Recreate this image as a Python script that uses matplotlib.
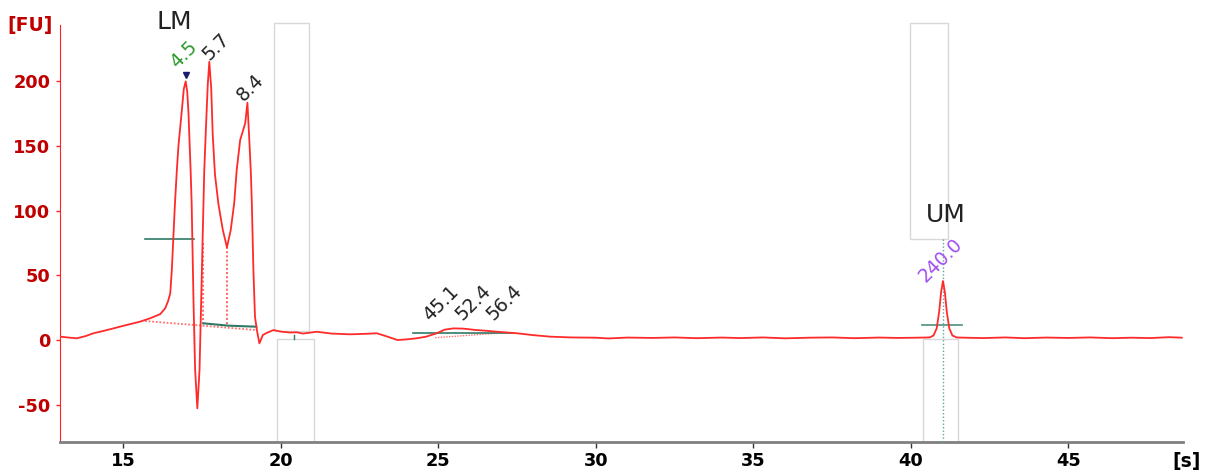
import numpy as np
import matplotlib.pyplot as plt
from matplotlib.patches import Rectangle

plt.rcParams["axes.unicode_minus"] = False

# electropherogram trace: migration time [s] vs fluorescence [FU]
time_s = [13.0, 13.3, 13.52, 13.8, 14.05, 14.4, 14.69, 15.0, 15.32, 15.53, 15.85, 16.17, 16.33,
          16.42, 16.49, 16.54, 16.59, 16.64, 16.70, 16.75, 16.86, 16.92, 16.98, 17.03, 17.07,
          17.14, 17.17, 17.23, 17.28, 17.35, 17.42, 17.47, 17.52, 17.57, 17.62, 17.68, 17.73,
          17.79, 17.84, 17.91, 18.02, 18.16, 18.29, 18.41, 18.52, 18.60, 18.71, 18.87, 18.94,
          19.00, 19.05, 19.08, 19.13, 19.18, 19.24, 19.32, 19.43, 19.56, 19.77, 20.0, 20.3,
          20.5, 20.7, 20.9, 21.14, 21.6, 22.2, 22.7, 23.05, 23.4, 23.7, 24.0, 24.3, 24.6, 24.95,
          25.2, 25.48, 25.8, 26.2, 26.5, 26.86, 27.5, 28.0, 28.55, 29.2, 30.0, 30.4, 31.0, 31.8,
          32.5, 33.2, 34.0, 34.6, 35.3, 36.0, 36.8, 37.5, 38.2, 39.0, 39.6, 40.2, 40.6, 40.72,
          40.82, 40.90, 40.96, 41.02, 41.08, 41.14, 41.22, 41.32, 41.45, 41.7, 42.3, 43.0, 43.6,
          44.3, 45.0, 45.7, 46.4, 47.0, 47.6, 48.2, 48.6]
fu = [2.6, 1.8, 1.3, 3.0, 5.2, 7.2, 9.0, 11.0, 12.9, 14.2, 16.8, 20.0, 24.5,
      30.0, 36.0, 54.0, 80.0, 105.7, 131.5, 150.0, 178.0, 194.0, 200.0, 192.0, 175.0,
      129.0, 105.7, 28.0, -23.0, -52.8, -23.0, 28.0, 80.0, 131.0, 162.0, 197.0, 215.2,
      195.0, 158.0, 128.0, 105.0, 85.0, 71.7, 85.0, 105.7, 131.5, 154.7, 167.6, 183.5,
      154.7, 129.0, 105.7, 54.0, 18.0, 7.7, -2.6, 3.9, 5.6, 7.7, 6.5, 5.8,
      6.0, 5.0, 5.6, 6.4, 5.0, 4.4, 4.8, 5.2, 2.5, 0.0, 0.5, 1.3, 2.5, 5.2,
      8.0, 9.0, 8.8, 7.7, 7.2, 6.4, 5.2, 3.8, 2.6, 2.0, 1.8, 1.2, 1.9, 1.6,
      2.0, 1.4, 1.9, 1.5, 2.0, 1.3, 1.8, 2.0, 1.4, 1.9, 1.6, 1.8, 2.0, 3.5,
      9.0, 22.0, 37.0, 45.6, 37.0, 22.0, 9.0, 3.5, 2.0, 1.8, 1.5, 2.0, 1.4,
      1.9, 1.6, 2.0, 1.4, 1.8, 1.5, 2.2, 1.8]

# peak calls: position of the size label and its text
peak_labels = ["4.5", "5.7", "8.4", "45.1", "52.4", "56.4", "240.0"]
peak_label_x = [16.93, 17.94, 19.03, 25.08, 26.11, 27.09, 40.96]
peak_label_y = [221, 227, 195, 28.4, 29, 29, 62]
peak_label_col = ["#2e9a2e", "#222222", "#222222", "#222222", "#222222", "#222222", "#a050f0"]

x_ticks = [15, 20, 25, 30, 35, 40, 45]
y_ticks = [-50, 0, 50, 100, 150, 200]

fig = plt.figure(figsize=(12.07, 4.73), dpi=100)
ax = fig.add_axes([60.3 / 1207, 1 - 442.3 / 473, 1122.4 / 1207, 417.3 / 473])
ax.set_xlim(13.0, 48.63)
ax.set_ylim(-79.1, 243.6)

green = "#2f7a66"
dot_red = "#ff7070"

# marker boxes
for (x0, x1, y0, y1) in [(19.77, 20.91, 6.8, 245), (19.89, 21.04, -78.5, 1.0),
                         (39.97, 41.19, 78, 245), (40.38, 41.51, -78.5, 1.0)]:
    ax.add_patch(Rectangle((x0, y0), x1 - x0, y1 - y0, fill=False, ec="#d8d8d8", lw=1,
                           clip_on=False, zorder=1))

# baselines and drop lines
ax.plot([15.69, 19.22], [14.7, 7.7], color=dot_red, lw=1.3, ls=(0, (1, 1)), zorder=2)
ax.plot([17.54, 17.54], [74.8, 12.4], color=dot_red, lw=1.5, ls=(0, (1, 1)), zorder=2)
ax.plot([18.30, 18.30], [71.7, 10.8], color=dot_red, lw=1.5, ls=(0, (1, 1)), zorder=2)
ax.plot([17.25, 17.25], [12.9, -10.3], color=dot_red, lw=1.0, ls=(0, (1, 1)), zorder=2)
ax.plot([24.9, 26.86], [1.8, 5.2], color=dot_red, lw=1.0, ls=(0, (1, 1)), zorder=2)
ax.plot([15.69, 17.26], [78.1, 78.1], color=green, lw=1.2, zorder=3)
ax.plot([17.54, 18.34, 19.22], [12.9, 11.1, 10.3], color=green, lw=1.5, zorder=3)
ax.plot([24.21, 27.33], [5.6, 5.6], color=green, lw=1.2, zorder=3)
ax.plot([40.35, 41.62], [11.5, 11.5], color="#5a9a8a", lw=1.3, zorder=3)
ax.plot([41.02, 41.02], [78, -79.1], color="#5aa898", lw=1, ls=(0, (1, 1.5)),
        clip_on=False, zorder=3)
ax.plot([20.43, 20.43], [4, 0.5], color=green, lw=1, zorder=3)

ax.plot(time_s, fu, color="#ff2a2a", lw=1.3, zorder=4)
ax.plot([16.98], [205], marker="v", color="#1c1c70", ms=5, zorder=5)

for t, x, y, c in zip(peak_labels, peak_label_x, peak_label_y, peak_label_col):
    ax.text(x, y, t, rotation=45, ha="center", va="center", fontsize=13.5, color=c,
            rotation_mode="anchor", clip_on=False)
ax.text(16.63, 246, "LM", ha="center", va="center", fontsize=18, color="#222222", clip_on=False)
ax.text(41.12, 96.7, "UM", ha="center", va="center", fontsize=18, color="#222222")

for s in ["top", "right"]:
    ax.spines[s].set_visible(False)
ax.spines["left"].set_color("#ff2020")
ax.spines["bottom"].set_color("#808080")
ax.spines["bottom"].set_linewidth(2)

ax.set_xticks(x_ticks)
ax.set_yticks(y_ticks)
ax.tick_params(axis="x", colors="#333333", length=4.3, width=1, pad=2.5, labelsize=12.8,
               labelcolor="black")
ax.tick_params(axis="y", colors="#ff2020", length=3, width=1, pad=4.3, labelsize=12.8,
               labelcolor="#c00000")
for lb in ax.get_xticklabels() + ax.get_yticklabels():
    lb.set_fontweight("bold")

fig.text(30 / 1207, 1 - 25 / 473, "[FU]", ha="center", va="center", fontsize=13.5,
         fontweight="bold", color="#c00000")
fig.text(1187 / 1207, 1 - 461 / 473, "[s]", ha="center", va="center", fontsize=13.5,
         fontweight="bold", color="black")

fig.savefig("out.png", dpi=100)
